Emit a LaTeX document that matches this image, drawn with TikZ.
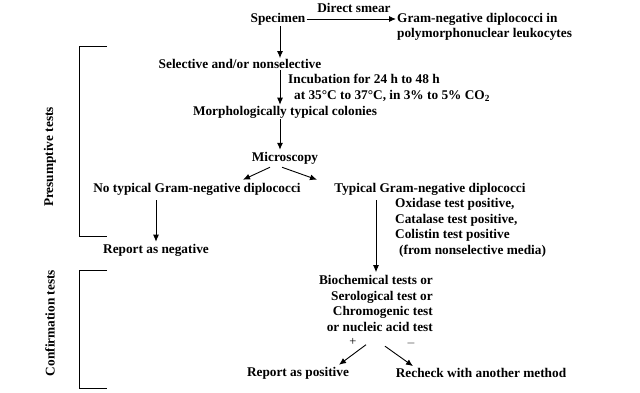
\documentclass[tikz,border=0pt]{standalone}
\usepackage{fontspec}
\setmainfont{Liberation Serif}
\usetikzlibrary{arrows.meta}
\begin{document}
\begin{tikzpicture}[x=1pt,y=-1pt,
  txt/.style={font=\bfseries\fontsize{13.3}{15.6}\selectfont, inner sep=1pt},
  sgn/.style={font=\fontsize{12.5}{13}\selectfont, inner sep=0pt},
  arr/.style={line width=0.9pt,-{Latex[length=7pt,width=6pt]}},
  brk/.style={line width=0.9pt}]
	
	\useasboundingbox (0,0) rectangle (640,393);
	
	% Probe und Direktausstrich
	\node[txt] (smear) at (354,8) {Direct smear};
	\node[txt] (spec) at (278,19) {Specimen};
	\node[txt,anchor=west,align=left] (gnd) at (396,27) {Gram-negative diplococci in\\polymorphonuclear leukocytes};
	\draw[arr] (spec.east) -- (spec.east -| gnd.west);
	
	% Kultur
	\coordinate (ax) at (280,0);
	\node[txt] (sel) at (240,64) {Selective and/or nonselective};
	\node[txt,anchor=west,align=left] (inc) at (287,88) {Incubation for 24 h to 48 h\\\hspace{6pt}at 35°C to 37°C, in 3\% to 5\% CO$_\mathbf{2}$};
	\node[txt] (morph) at (285,112) {Morphologically typical colonies};
	\draw[arr] (ax |- spec.south) -- (ax |- sel.north);
	\draw[arr] (ax |- sel.south) -- (ax |- morph.north);
	
	% Mikroskopie
	\node[txt] (micro) at (285,158) {Microscopy};
	\draw[arr] (ax |- morph.south) -- ([yshift=1pt]ax |- micro.north);
	\node[txt] (notyp) at (197,189) {No typical Gram-negative diplococci};
	\node[txt] (typ) at (430,189) {Typical Gram-negative diplococci};
	\draw[arr] ([xshift=-15pt,yshift=-2pt]micro.south) -- ([xshift=46pt,yshift=2pt]notyp.north);
	\draw[arr] ([xshift=-3pt,yshift=-2pt]micro.south) -- ([xshift=-113pt,yshift=2pt]typ.north);
	
	% Negativer Zweig
	\node[txt] (neg) at (156,250) {Report as negative};
	\draw[arr] ([yshift=-4pt]neg.north |- notyp.south) -- ([yshift=1pt]neg.north);
	
	% Positiver Zweig
	\coordinate (ax2) at (376,0);
	\node[txt,anchor=west,align=left] (ox) at (394,228) {Oxidase test positive,\\Catalase test positive,\\Colistin test positive\\\hspace{4pt}(from nonselective media)};
	\node[txt,anchor=east,align=right] (bio) at (434,303.5) {Biochemical tests or\\Serological test or\\Chromogenic test\hspace{8pt}\\or nucleic acid test};
	\draw[arr] ([yshift=-4pt]ax2 |- typ.south) -- ([yshift=2pt]ax2 |- bio.north);
	
	% Bestaetigung
	\node[sgn] (plus) at (353,342) {+};
	\node[sgn] (minus) at (411,343) {$-$};
	\node[txt] (pos) at (298,373) {Report as positive};
	\node[txt] (rech) at (481,373) {Recheck with another method};
	\draw[arr] ([xshift=13pt,yshift=1pt]plus.south) -- ([xshift=41pt,yshift=1pt]pos.north);
	\draw[arr] ([xshift=-26pt,yshift=1pt]minus.south) -- ([xshift=-68pt,yshift=1pt]rech.north);
	
	% Klammern
	\draw[brk] (107,46) -- (79,46) -- (79,236) -- (107,236);
	\draw[brk] (107,270) -- (79,270) -- (79,388) -- (107,388);
	\node[txt,rotate=90] (pres) at (50,157) {Presumptive tests};
	\node[txt,rotate=90] (conf) at (50,323) {Confirmation tests};
	
\end{tikzpicture}
\end{document}
